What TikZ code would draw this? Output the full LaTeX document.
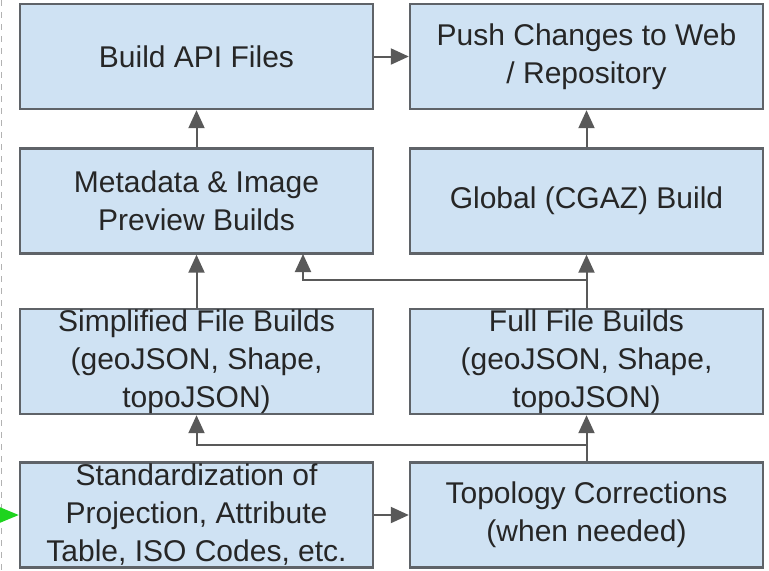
\documentclass[tikz,border=0pt]{standalone}
\usepackage{fontspec}
\setmainfont{Liberation Sans}
\usetikzlibrary{arrows.meta}

\definecolor{boxfill}{HTML}{CFE2F3}
\definecolor{boxline}{HTML}{5F6368}
\definecolor{linkgray}{HTML}{595959}
\definecolor{inputgreen}{HTML}{1ED41E}

\tikzset{
	box/.style = {draw = boxline, line width = 1.2pt, fill = boxfill, text = black!85,
		minimum width = 176.5pt, minimum height = 52.5pt, inner sep = 0pt,
		align = center, font = \fontsize{15}{19}\selectfont},
	link/.style = {draw = linkgray, line width = 1pt, -{Triangle[length = 9pt, width = 8pt]}},
}

\begin{document}
\begin{tikzpicture}[x = 0.5pt, y = -0.5pt]
				%	frame
				\useasboundingbox (0, 0) rectangle (769, 570);
				\draw[dashed, gray!60, thin] (1, 0) -- (1, 570);
				
				%	boxes
				\node[box] (api)  at (196.5, 56.5)  {Build API Files};
				\node[box] (push) at (586.5, 56.5)  {Push Changes to Web\\ / Repository};
				\node[box] (meta) at (196.5, 201)   {Metadata \& Image\\ Preview Builds};
				\node[box] (glob) at (586.5, 201)   {Global (CGAZ) Build};
				\node[box] (simp) at (196.5, 361.5) {Simplified File Builds\\ (geoJSON, Shape,\\ topoJSON)};
				\node[box] (full) at (586.5, 361.5) {Full File Builds\\ (geoJSON, Shape,\\ topoJSON)};
				\node[box] (std)  at (196.5, 515)   {Standardization of\\ Projection, Attribute\\ Table, ISO Codes, etc.};
				\node[box] (topo) at (586.5, 515)   {Topology Corrections\\ (when needed)};
				
				%	split points
				\coordinate (upsplit)  at (586.5, 280);
				\coordinate (lowsplit) at (586.5, 445);
				\coordinate (metain)   at (303, 254);
				\coordinate (input)    at (0, 515);
				
				%	arrows
				\draw[link] (api) -- (push);
				\draw[link] (meta) -- (api);
				\draw[link] (glob) -- (push);
				\draw[link] (simp) -- (meta);
				\draw[link] (full) -- (glob);
				\draw[link] (upsplit) -| (metain);
				\draw[link] (topo) -- (full);
				\draw[link] (lowsplit) -| (simp.south);
				\draw[link] (std) -- (topo);
				\draw[link, draw = inputgreen, fill = inputgreen, -{Triangle[length = 10pt, width = 8pt]}] (input) -- (std);
\end{tikzpicture}
\end{document}
